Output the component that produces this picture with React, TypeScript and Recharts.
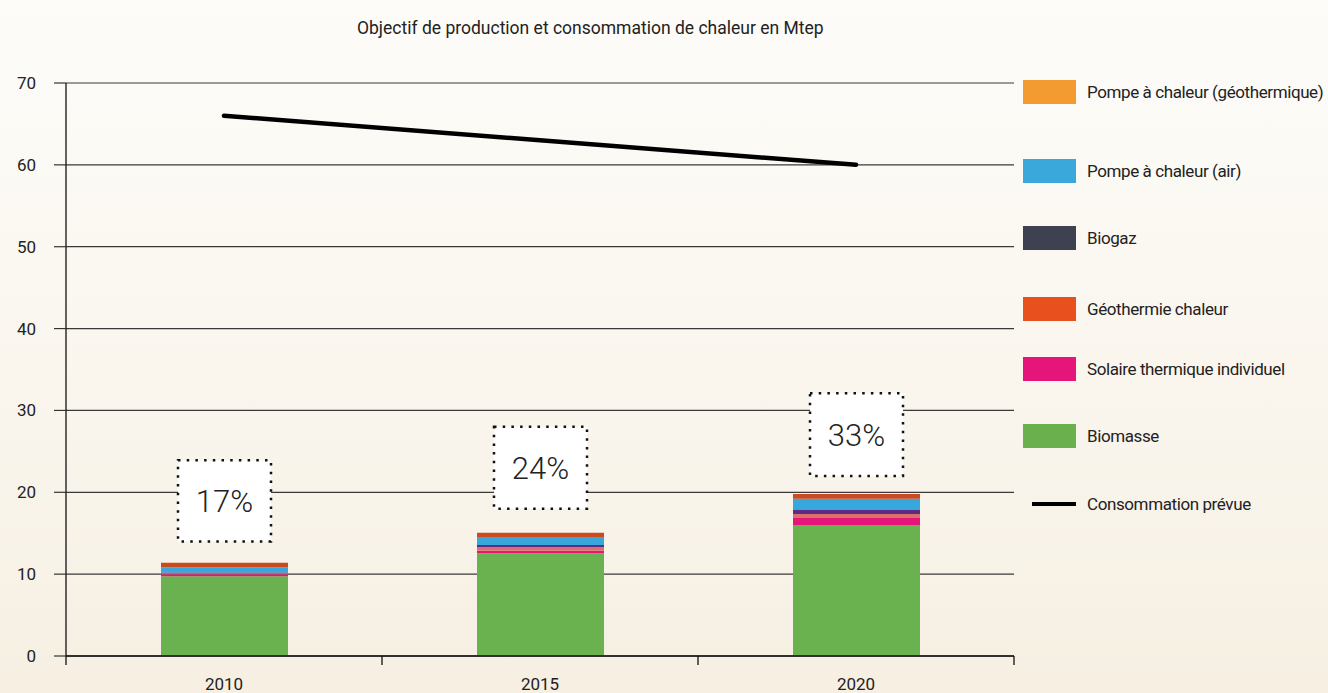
import React from 'react';
import { ComposedChart, Bar, Line, XAxis, YAxis, CartesianGrid } from 'recharts';

// values (Mtep)
const years = ['2010', '2015', '2020'];
const biomasse = [9.75, 12.55, 16.0];
const solaire = [0.25, 0.3, 0.85];
const geothermie = [0.1, 0.45, 0.5];
const biogaz = [0.1, 0.25, 0.5];
const pacAir = [0.65, 1.0, 1.35];
const pacGeo = [0.55, 0.5, 0.6];
const consommation = [66, 63, 60];
const parts = ['17%', '24%', '33%'];
const boxLow = [14, 18, 22];
const boxHigh = [23.9, 28, 32.1];
const yTicks = [0, 10, 20, 30, 40, 50, 60, 70];

const W = 1328;
const H = 693;
const FONT = 'Roboto, "Open Sans", sans-serif';
const PLOT_LEFT = 66;
const PLOT_RIGHT = 1014;
const BAND = (PLOT_RIGHT - PLOT_LEFT) / years.length;

const data = years.map((year, i) => ({
  year,
  biomasse: biomasse[i],
  solaire: solaire[i],
  geothermie: geothermie[i],
  biogaz: biogaz[i],
  pacAir: pacAir[i],
  pacGeo: pacGeo[i],
  consommation: consommation[i],
  part: parts[i],
  box: [boxLow[i], boxHigh[i]],
}));

// stacked bottom -> top
const stack = [
  { key: 'biomasse', name: 'Biomasse', bar: '#6ab24f', legend: '#6ab04c' },
  { key: 'solaire', name: 'Solaire thermique individuel', bar: '#e5157a', legend: '#e5157a' },
  { key: 'geothermie', name: 'Géothermie chaleur', bar: '#d9706c', legend: '#e8501e' },
  { key: 'biogaz', name: 'Biogaz', bar: '#5e2a84', legend: '#3d4150' },
  { key: 'pacAir', name: 'Pompe à chaleur (air)', bar: '#38a8dc', legend: '#3aa8db' },
  { key: 'pacGeo', name: 'Pompe à chaleur (géothermique)', bar: '#c94b1f', legend: '#f39a30' },
];

const legendTops = [80, 159, 226, 297, 357, 424, 492];
const legendText = { marginLeft: 11, fontSize: 17, letterSpacing: -0.4, whiteSpace: 'nowrap' as const };

const YearTick = (props: any) => {
  const { x, y, payload, index } = props;
  return (
    <g>
      <line x1={x - BAND / 2} y1={y} x2={x - BAND / 2} y2={y + 9} stroke="#111" strokeWidth={1.3} />
      {index === years.length - 1 && (
        <line x1={x + BAND / 2} y1={y} x2={x + BAND / 2} y2={y + 9} stroke="#111" strokeWidth={1.3} />
      )}
      <text x={x} y={y + 34} textAnchor="middle" fontSize={17} fill="#222" fontFamily={FONT}>
        {payload.value}
      </text>
    </g>
  );
};

const PartBox = (props: any) => {
  const { x, y, width, height, payload } = props;
  return (
    <g>
      <rect
        x={x}
        y={y}
        width={width}
        height={height}
        fill="#ffffff"
        stroke="#111"
        strokeWidth={2.5}
        strokeDasharray="2.5 6.2"
      />
      <text
        x={x + width / 2}
        y={y + height / 2 + 11}
        textAnchor="middle"
        fontSize={31}
        fontWeight={300}
        fill="#222"
        fontFamily={FONT}
      >
        {payload.part}
      </text>
    </g>
  );
};

export default function App() {
  const legendItems = [...stack].reverse();
  return (
    <div
      style={{
        position: 'absolute',
        left: 0,
        top: 0,
        width: W,
        height: H,
        overflow: 'hidden',
        background: 'linear-gradient(180deg, #fdfcf9 0%, #faf6ee 55%, #f6efe2 100%)',
        fontFamily: FONT,
        color: '#222',
      }}
    >
      <div style={{ position: 'absolute', left: 357, top: 18, fontSize: 17.5, whiteSpace: 'nowrap' }}>
        Objectif de production et consommation de chaleur en Mtep
      </div>

      <ComposedChart width={W} height={H} data={data} margin={{ top: 83, right: W - PLOT_RIGHT, bottom: 0, left: 0 }}>
        <CartesianGrid vertical={false} stroke="#3a3a3a" strokeWidth={1.2} />
        <XAxis
          dataKey="year"
          height={37}
          axisLine={{ stroke: '#111', strokeWidth: 1.3 }}
          tickLine={false}
          tickSize={0}
          tickMargin={0}
          tick={<YearTick />}
          interval={0}
        />
        <XAxis xAxisId="box" dataKey="year" hide />
        <YAxis
          width={PLOT_LEFT}
          domain={[0, 70]}
          ticks={yTicks}
          interval={0}
          axisLine={{ stroke: '#111', strokeWidth: 1.3 }}
          tickLine={{ stroke: '#333', strokeWidth: 1.2 }}
          tickSize={12}
          tickMargin={18}
          tick={{ fontSize: 17, fill: '#222', fontFamily: FONT }}
        />
        {stack.map((s) => (
          <Bar
            key={s.key}
            dataKey={s.key}
            name={s.name}
            stackId="prod"
            fill={s.bar}
            barSize={127}
            isAnimationActive={false}
          />
        ))}
        <Bar xAxisId="box" dataKey="box" barSize={93} shape={<PartBox />} isAnimationActive={false} />
        <Line
          dataKey="consommation"
          name="Consommation prévue"
          stroke="#000"
          strokeWidth={4.5}
          strokeLinecap="round"
          dot={false}
          activeDot={false}
          isAnimationActive={false}
        />
      </ComposedChart>

      {legendItems.map((s, i) => (
        <div key={s.key} style={{ position: 'absolute', left: 1023, top: legendTops[i], display: 'flex', alignItems: 'center', height: 24 }}>
          <div style={{ width: 53, height: 24, background: s.legend }} />
          <span style={legendText}>{s.name}</span>
        </div>
      ))}
      <div style={{ position: 'absolute', left: 1023, top: legendTops[6], display: 'flex', alignItems: 'center', height: 24 }}>
        <div style={{ width: 53, height: 24, display: 'flex', alignItems: 'center', justifyContent: 'flex-end' }}>
          <div style={{ width: 44, height: 4, background: '#000' }} />
        </div>
        <span style={legendText}>Consommation prévue</span>
      </div>
    </div>
  );
}
